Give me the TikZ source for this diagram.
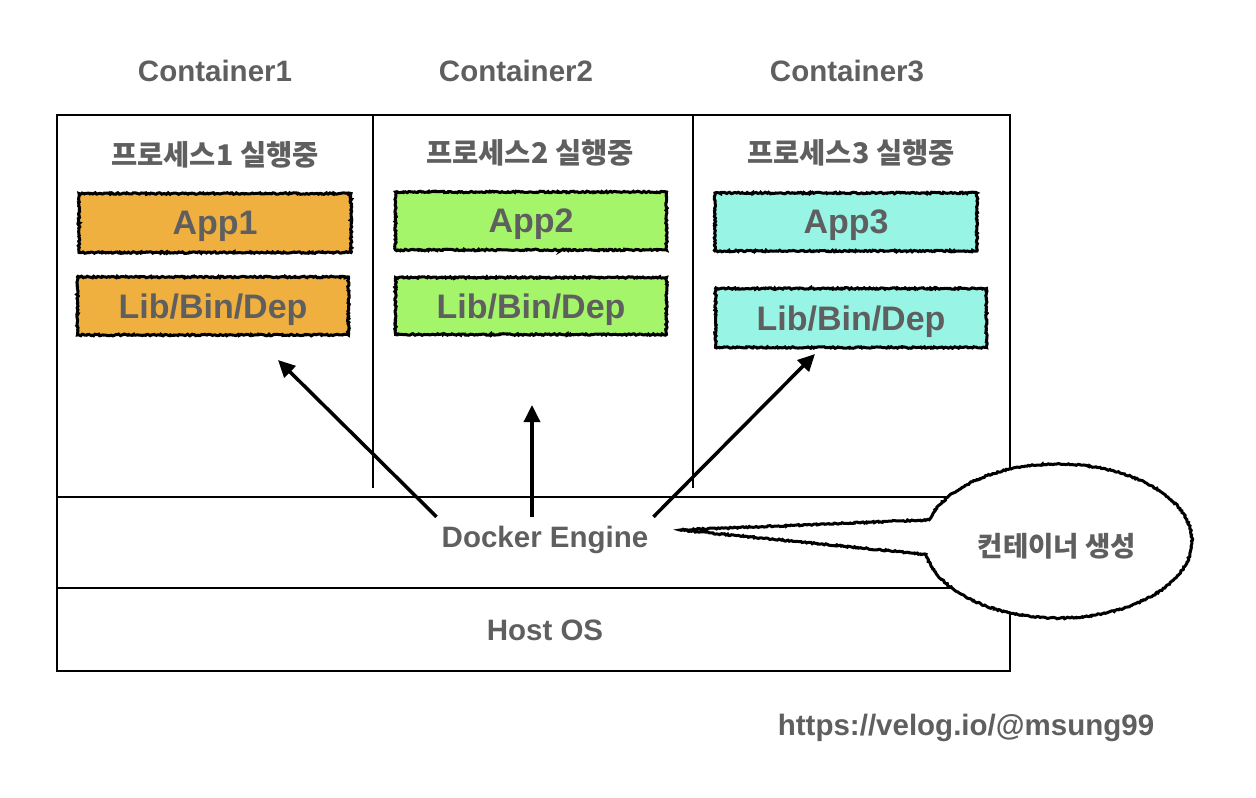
\documentclass[tikz,border=0pt]{standalone}
\usepackage{fontspec}
\setmainfont{Liberation Sans}
\newfontfamily\krfont{Noto Sans CJK KR}
\usetikzlibrary{arrows.meta,decorations.pathmorphing}
\definecolor{txtgray}{RGB}{95,95,95}
\definecolor{appone}{RGB}{240,176,64}
\definecolor{apptwo}{RGB}{164,245,106}
\definecolor{appthree}{RGB}{152,245,230}
\begin{document}
\begin{tikzpicture}[x=1pt,y=-1pt,
  title/.style={text=txtgray,font=\fontsize{29.5}{30}\selectfont\bfseries},
  proc/.style={text=txtgray,font=\krfont\fontsize{28.5}{29}\selectfont\bfseries},
  layer/.style={draw,line width=3pt,decorate,decoration={random steps,segment length=1.5pt,amplitude=0.8pt},
    text=txtgray,font=\fontsize{34}{35}\selectfont\bfseries,inner sep=0pt,text depth=0pt},
  arr/.style={-{Triangle[length=17pt,width=16pt]},line width=3.5pt},
  frame/.style={line width=2.8pt},
  bubble/.style={draw,fill=white,line width=3pt,decorate,decoration={random steps,segment length=1.5pt,amplitude=0.7pt}}]
\useasboundingbox (0,0) rectangle (1256,798);
\node[title] (C1) at (215,71) {Container1};
\node[title] (C2) at (516,71) {Container2};
\node[title] (C3) at (847,71) {Container3};
\node[proc] (P1) at (215,155) {프로세스1 실행중};
\node[proc] (P2) at (530,153) {프로세스2 실행중};
\node[proc] (P3) at (851,153) {프로세스3 실행중};
\node[layer,fill=appone,minimum width=272pt,minimum height=59pt] (app1) at (215,223) {App1};
\node[layer,fill=appone,minimum width=271pt,minimum height=58pt] (lib1) at (213,306) {Lib/Bin/Dep};
\node[layer,fill=apptwo,minimum width=271pt,minimum height=58pt] (app2) at (531,221) {App2};
\node[layer,fill=apptwo,minimum width=271pt,minimum height=57pt] (lib2) at (531,306) {Lib/Bin/Dep};
\node[layer,fill=appthree,minimum width=262pt,minimum height=58pt] (app3) at (846,222) {App3};
\node[layer,fill=appthree,minimum width=271pt,minimum height=59pt] (lib3) at (851,318) {Lib/Bin/Dep};
\draw[frame] (57,115) rectangle (1010,671);
\draw[frame] (57,497) -- (1010,497);
\draw[frame] (57,588) -- (1010,588);
\draw[line width=2.2pt] (373,115) -- (373,488);
\draw[line width=2.2pt] (693,115) -- (693,488);
\node[title,minimum height=46pt,inner xsep=5pt] (docker) at (545,540) {Docker Engine};
\node[title] (host) at (545,630) {Host OS};
\node[title] (url) at (966,728) {https://velog.io/@msung99};
\coordinate (tip1) at (278,360);
\coordinate (tip2) at (532,405);
\coordinate (tip3) at (815,354);
\coordinate (tail) at (680,530);
\draw[bubble] (tail) -- (929.2,519.8) arc[start angle=196,end angle=530,x radius=134,y radius=77] -- cycle;
\node[proc,font=\krfont\fontsize{27.5}{28}\selectfont\bfseries] (create) at (1057,546) {컨테이너 생성};
\path
  (docker.north west) edge[arr] (tip1)
  ([xshift=-13pt]docker.north) edge[arr] (tip2)
  (docker.north east) edge[arr] (tip3)
;
\end{tikzpicture}
\end{document}
